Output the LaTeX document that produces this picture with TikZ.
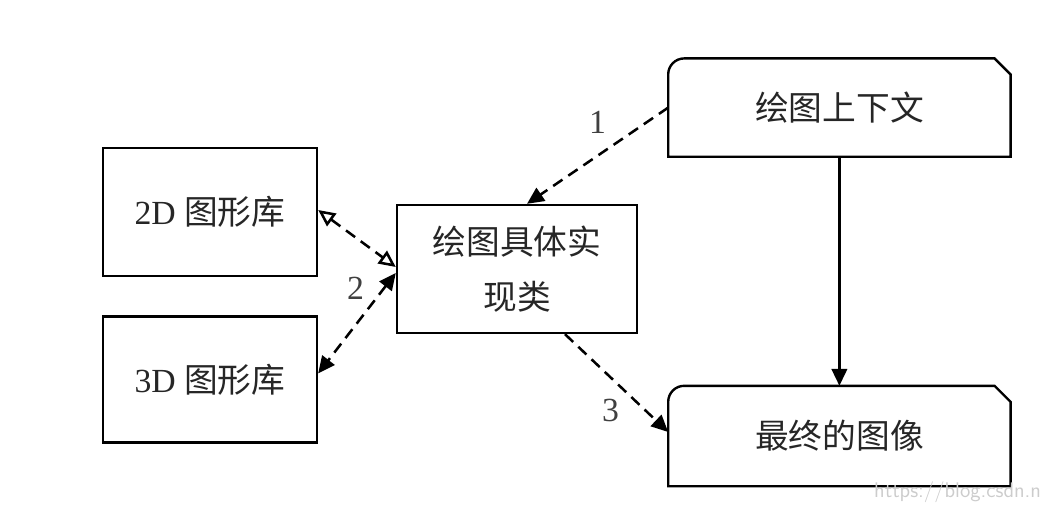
\documentclass[tikz,border=0pt]{standalone}
\usepackage{fontspec}
\setmainfont{Liberation Serif}
\newfontfamily\cjk{Noto Sans CJK SC}
\usepackage{tikz}
\usetikzlibrary{arrows.meta,positioning,calc}
\tikzset{
    box/.style={draw, line width=1.7pt, rectangle, align=center, font=\fontsize{24}{39}\selectfont, text=black!85},
    plainbox/.style={line width=1.7pt, rectangle, align=center, font=\fontsize{24}{39}\selectfont, text=black!85},
    flow/.style={line width=1.8pt, dash pattern=on 8pt off 5pt},
    tipfull/.style={-{Triangle[length=12pt, width=11pt]}},
    numlabel/.style={font=\fontsize{24}{28}\selectfont, text=black!75}
}

\begin{document}
\begin{tikzpicture}
    \useasboundingbox (0,0) rectangle (26.15,12.75);
    \node [box, minimum width=6cm, minimum height=3.2cm] (impl) at (12.925,6.025) {\cjk 绘图具体实\\\cjk 现类};
    \node [box, minimum width=5.35cm, minimum height=3.2cm] (lib2d) at (5.25,7.45) {2D {\cjk 图形库}};
    \node [box, minimum width=5.35cm, minimum height=3.15cm, below=0.95cm of lib2d] (lib3d) {3D {\cjk 图形库}};

    \node [plainbox, minimum width=8.5cm, minimum height=2.4cm, above right=1.175cm and 0.75cm of impl] (ctx) {\cjk 绘图上下文};
    \node [plainbox, minimum width=8.5cm, minimum height=2.45cm, below=5.725cm of ctx] (img) {\cjk 最终的图像};

    % outline with one round and one cut corner
    \foreach \b in {ctx,img} {
        \draw [line width=1.7pt] (\b.south west) -- ([yshift=-0.4cm]\b.north west)
            arc [start angle=180, end angle=90, radius=0.4cm]
            -- ([xshift=-0.4cm]\b.north east) -- ([yshift=-0.4cm]\b.north east)
            -- (\b.south east) -- cycle;
    }

    \draw [flow, tipfull] (ctx.west) -- node [numlabel, pos=0.5, yshift=0.83cm] {1} ([xshift=0.25cm]impl.north);
    \draw [flow, {Triangle[open, fill=white, length=12pt, width=11pt]}-{Triangle[open, fill=white, length=12pt, width=11pt]}] ([yshift=0.05cm]lib2d.east) -- ([yshift=0.05cm]impl.west);
    \draw [flow, {Triangle[length=12pt, width=11pt]}-{Triangle[length=12pt, width=11pt]}] ([yshift=-0.1cm]impl.west) -- node [numlabel, pos=0.35, xshift=-0.33cm, yshift=0.5cm] {2} ([yshift=0.15cm]lib3d.east);
    \draw [flow, tipfull] ([xshift=1.2cm]impl.south) -- node [numlabel, pos=0.5, xshift=-0.15cm, yshift=-0.69cm] {3} ([yshift=0.1cm]img.west);
    \draw [line width=1.8pt, tipfull] (ctx.south) -- (img.north);

    \node [font=\sffamily\fontsize{15}{18}\selectfont, text=black!20, anchor=south east] (mark) at (26.15,0.05) {https://blog.csdn.n};
\end{tikzpicture}
\end{document}
